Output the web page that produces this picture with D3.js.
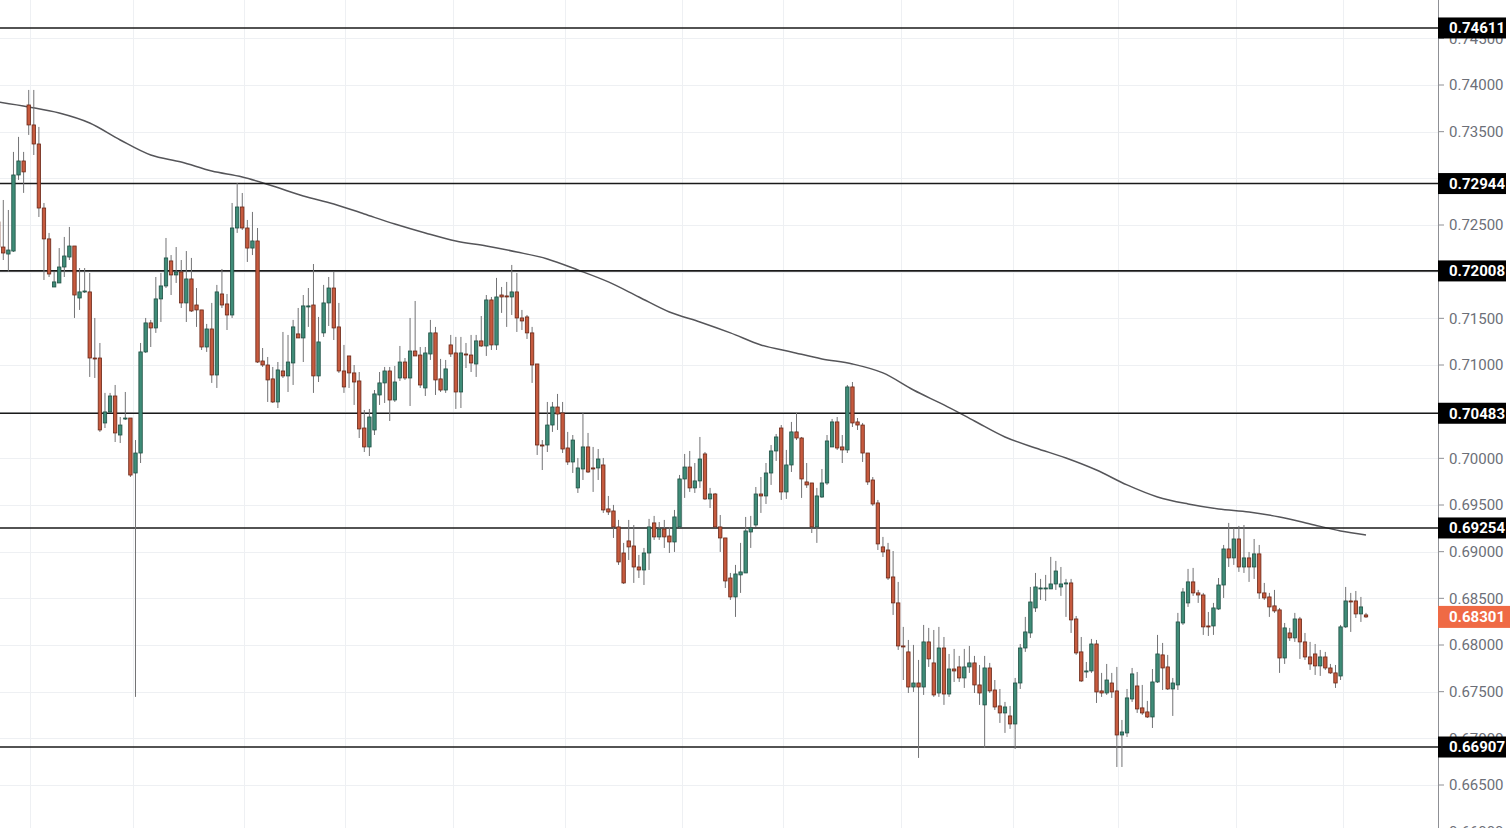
<!DOCTYPE html>
<html>
<head>
<meta charset="utf-8">
<script src="https://cdnjs.cloudflare.com/ajax/libs/d3/7.8.5/d3.min.js"></script>
<style>
  html, body { margin: 0; padding: 0; background: #ffffff; overflow: hidden; }
  svg { display: block; }
</style>
</head>
<body>
<svg id="chart" width="1510" height="828"></svg>
<script>
// ---------------- DATA ----------------
const openP = [
0.72533,0.72264,0.72189,0.72221,0.73036,0.73186,0.73786,0.73572,0.73368,0.72682,
0.72351,0.71836,0.71879,0.72050,0.72157,0.72275,0.71718,0.71783,0.71783,0.71075,
0.71075,0.70379,0.70497,0.70668,0.70250,0.70422,0.70432,0.69843,0.70057,0.71140,
0.71451,0.71397,0.71708,0.71847,0.72115,0.71965,0.71997,0.71665,0.71922,0.71643,
0.71590,0.71193,0.71386,0.70893,0.71761,0.71654,0.71536,0.72468,0.72693,0.72468,
0.72253,0.72329,0.71043,0.71000,0.70851,0.70604,0.70936,0.70883,0.71022,0.71333,
0.71290,0.71622,0.71643,0.70883,0.71344,0.71665,0.71825,0.71408,0.70936,0.71097,
0.70915,0.70829,0.70325,0.70122,0.70304,0.70679,0.70808,0.70936,0.70625,0.70861,
0.71032,0.70861,0.71150,0.71107,0.70754,0.71118,0.71344,0.70851,0.70732,0.71215,
0.71129,0.70711,0.71118,0.71107,0.71011,0.71258,0.71204,0.71697,0.71215,0.71750,
0.71740,0.71729,0.71783,0.71504,0.71515,0.71344,0.71011,0.70143,0.70143,0.70357,
0.70550,0.70486,0.70111,0.69961,0.69683,0.69886,0.70122,0.69897,0.69897,0.69929,
0.69458,0.69436,0.69265,0.68986,0.69115,0.69061,0.68836,0.68804,0.68986,0.69308,
0.69158,0.69243,0.69168,0.69104,0.69265,0.69779,0.69907,0.69683,0.69758,0.70047,
0.69565,0.69618,0.69265,0.69147,0.68718,0.68515,0.68751,0.68772,0.69211,0.69286,
0.69618,0.69597,0.69843,0.70079,0.70325,0.69640,0.69929,0.70283,0.70218,0.69747,
0.69736,0.69265,0.69586,0.69736,0.70122,0.70390,0.70122,0.70090,0.70765,0.70390,
0.70357,0.70057,0.69768,0.69522,0.69051,0.69018,0.68729,0.68451,0.67990,0.67926,
0.67550,0.67593,0.67550,0.68033,0.67808,0.67486,0.67968,0.67475,0.67743,0.67765,
0.67647,0.67765,0.67808,0.67572,0.67358,0.67754,0.67518,0.67347,0.67272,0.67240,
0.67154,0.67593,0.67968,0.68129,0.68397,0.68601,0.68601,0.68601,0.68654,0.68622,
0.68654,0.68665,0.68279,0.67926,0.67711,0.67722,0.68011,0.67508,0.67486,0.67593,
0.67508,0.67036,0.67058,0.67422,0.67561,0.67326,0.67283,0.67229,0.67604,0.67894,
0.67765,0.67529,0.67572,0.68236,0.68451,0.68676,0.68558,0.68536,0.68204,0.68204,
0.68386,0.68643,0.69029,0.68933,0.69136,0.68836,0.68933,0.68836,0.68976,0.68558,
0.68515,0.68419,0.68376,0.67861,0.68129,0.68076,0.68279,0.68033,0.67872,0.67904,
0.67776,0.67872,0.67754,0.67701,0.67668,0.68194,0.68472,0.68472,0.68333,0.68322
];
const highP = [
0.72768,0.72768,0.72661,0.73283,0.73444,0.73283,0.73947,0.73947,0.73551,0.72736,
0.72415,0.71997,0.72253,0.72372,0.72479,0.72275,0.72039,0.72039,0.71986,0.71504,
0.71236,0.70701,0.70701,0.70786,0.70443,0.70711,0.70432,0.70196,0.71236,0.71504,
0.71483,0.71943,0.71986,0.72361,0.72178,0.72264,0.72125,0.72221,0.72147,0.71825,
0.71590,0.71440,0.71665,0.71858,0.72029,0.71761,0.72736,0.72950,0.72843,0.72554,
0.72640,0.72468,0.71182,0.71086,0.70979,0.71032,0.71354,0.71322,0.71483,0.71611,
0.71750,0.71825,0.72082,0.71515,0.71858,0.71943,0.71997,0.71665,0.71215,0.71097,
0.71000,0.70925,0.70518,0.70529,0.70732,0.70925,0.70979,0.70979,0.70990,0.71204,
0.71075,0.71504,0.71686,0.71193,0.71193,0.71483,0.71408,0.71065,0.71054,0.71322,
0.71301,0.71301,0.71236,0.71322,0.71322,0.71525,0.71750,0.71729,0.71933,0.71836,
0.71890,0.72072,0.71986,0.71590,0.71536,0.71408,0.71011,0.70196,0.70604,0.70604,
0.70690,0.70604,0.70283,0.70250,0.70004,0.70486,0.70272,0.70122,0.70100,0.70004,
0.69597,0.69501,0.69340,0.69094,0.69340,0.69286,0.68965,0.69040,0.69351,0.69383,
0.69318,0.69340,0.69265,0.69447,0.69822,0.70047,0.70079,0.69950,0.70229,0.70068,
0.69683,0.69629,0.69393,0.69147,0.68772,0.68858,0.69094,0.69372,0.69383,0.69693,
0.69800,0.69950,0.70143,0.70261,0.70357,0.70090,0.70390,0.70486,0.70229,0.69950,
0.69736,0.69683,0.69886,0.70250,0.70422,0.70443,0.70250,0.70786,0.70818,0.70432,
0.70379,0.70057,0.69800,0.69554,0.69158,0.69094,0.69007,0.68676,0.68194,0.68054,
0.68001,0.67840,0.68215,0.68183,0.68161,0.68194,0.68086,0.67904,0.67958,0.67883,
0.67958,0.67990,0.67883,0.67786,0.67883,0.67808,0.67625,0.67529,0.67390,0.67347,
0.67647,0.68011,0.68301,0.68622,0.68772,0.68708,0.68751,0.68944,0.68901,0.68836,
0.68708,0.68708,0.68311,0.68086,0.67818,0.68065,0.68054,0.67701,0.67797,0.67701,
0.67765,0.67197,0.67529,0.67754,0.67711,0.67572,0.67401,0.67743,0.68108,0.68022,
0.67894,0.67647,0.68344,0.68611,0.68815,0.68826,0.68590,0.68558,0.68354,0.68451,
0.68718,0.69072,0.69308,0.69254,0.69276,0.69286,0.68997,0.69136,0.69072,0.68665,
0.68558,0.68590,0.68397,0.68236,0.68183,0.68344,0.68301,0.68129,0.68033,0.68011,
0.67947,0.67926,0.67797,0.67786,0.68215,0.68622,0.68558,0.68579,0.68515,0.68344
];
const lowP = [
0.72178,0.72125,0.71997,0.72211,0.72983,0.72844,0.73465,0.73250,0.72586,0.71911,
0.71943,0.71836,0.71879,0.71943,0.72125,0.71504,0.71590,0.71772,0.70872,0.70861,
0.70283,0.70325,0.70486,0.70175,0.70164,0.70411,0.69800,0.67444,0.69950,0.71129,
0.71193,0.71344,0.71461,0.71825,0.71750,0.71879,0.71611,0.71461,0.71568,0.71408,
0.71161,0.71140,0.70808,0.70754,0.71611,0.71375,0.71504,0.72415,0.72447,0.72104,
0.72178,0.71022,0.70979,0.70604,0.70593,0.70539,0.70861,0.70711,0.70786,0.71290,
0.71032,0.71408,0.70701,0.70818,0.71301,0.71418,0.71268,0.70915,0.70701,0.70754,
0.70572,0.70218,0.70068,0.70025,0.70250,0.70572,0.70593,0.70400,0.70604,0.70829,
0.70840,0.70561,0.71097,0.70754,0.70668,0.71054,0.70679,0.70711,0.70701,0.71086,
0.70529,0.70539,0.70968,0.70925,0.70872,0.71193,0.71097,0.71161,0.71161,0.71558,
0.71408,0.71536,0.71354,0.71375,0.71279,0.70808,0.70036,0.69875,0.70068,0.70283,
0.70304,0.70057,0.69929,0.69843,0.69629,0.69768,0.69843,0.69640,0.69768,0.69415,
0.69393,0.69147,0.68858,0.68654,0.68911,0.68665,0.68718,0.68643,0.68804,0.69126,
0.69126,0.69040,0.68986,0.68997,0.69254,0.69576,0.69640,0.69629,0.69683,0.69554,
0.69468,0.69254,0.68997,0.68611,0.68483,0.68301,0.68558,0.68772,0.69040,0.69265,
0.69415,0.69511,0.69715,0.69972,0.69554,0.69565,0.69854,0.70196,0.69576,0.69683,
0.69200,0.69094,0.69576,0.69715,0.70122,0.70090,0.69950,0.70057,0.70336,0.70304,
0.69961,0.69715,0.69490,0.69018,0.68943,0.68697,0.68322,0.67947,0.67625,0.67486,
0.67497,0.66790,0.67465,0.67765,0.67444,0.67444,0.67358,0.67444,0.67604,0.67604,
0.67540,0.67701,0.67486,0.67358,0.66897,0.67486,0.67304,0.67165,0.67058,0.67101,
0.66886,0.67529,0.67926,0.68076,0.68354,0.68483,0.68472,0.68601,0.68590,0.68526,
0.68301,0.68129,0.67894,0.67604,0.67647,0.67701,0.67379,0.67444,0.67465,0.67433,
0.66693,0.66693,0.67015,0.67390,0.67272,0.67251,0.67218,0.67111,0.67593,0.67518,
0.67518,0.67240,0.67518,0.68215,0.68408,0.68526,0.68451,0.68108,0.68097,0.68108,
0.68376,0.68504,0.68836,0.68858,0.68783,0.68772,0.68676,0.68708,0.68494,0.68483,
0.68301,0.68344,0.67701,0.67797,0.68044,0.68033,0.67851,0.67840,0.67733,0.67679,
0.67669,0.67733,0.67690,0.67540,0.67625,0.68183,0.68140,0.68290,0.68247,0.68290
];
const closeP = [
0.72264,0.72200,0.72232,0.73036,0.73186,0.73069,0.73572,0.73368,0.72682,0.72351,
0.71975,0.71890,0.72050,0.72168,0.72275,0.71750,0.71783,0.71793,0.71075,0.71065,
0.70304,0.70497,0.70668,0.70272,0.70357,0.70432,0.69821,0.70057,0.71140,0.71451,
0.71397,0.71708,0.71847,0.72147,0.71965,0.71997,0.71665,0.71922,0.71579,0.71590,
0.71193,0.71386,0.70893,0.71783,0.71643,0.71536,0.72468,0.72693,0.72468,0.72253,
0.72329,0.71032,0.71000,0.70840,0.70604,0.70947,0.70883,0.71032,0.71408,0.71290,
0.71633,0.71633,0.70883,0.71247,0.71665,0.71825,0.71397,0.70936,0.70765,0.70915,
0.70818,0.70315,0.70122,0.70443,0.70690,0.70808,0.70936,0.70625,0.70818,0.71032,
0.70861,0.71150,0.71097,0.70786,0.71129,0.71344,0.70840,0.70732,0.70958,0.71118,
0.70711,0.71129,0.71107,0.71022,0.71258,0.71204,0.71697,0.71215,0.71729,0.71729,
0.71729,0.71783,0.71504,0.71472,0.71344,0.71000,0.70143,0.70132,0.70357,0.70550,
0.70475,0.70100,0.69961,0.70196,0.69897,0.70122,0.69854,0.69886,0.69993,0.69447,
0.69425,0.69265,0.68890,0.68665,0.69051,0.68836,0.68804,0.68986,0.69265,0.69158,
0.69243,0.69158,0.69104,0.69372,0.69779,0.69907,0.69683,0.69758,0.69993,0.69565,
0.69618,0.69265,0.69147,0.68686,0.68515,0.68761,0.68783,0.69222,0.69254,0.69618,
0.69597,0.69843,0.70079,0.70229,0.69640,0.69929,0.70283,0.70218,0.69779,0.69715,
0.69265,0.69597,0.69736,0.70186,0.70390,0.70111,0.70090,0.70765,0.70379,0.70357,
0.70057,0.69747,0.69511,0.69083,0.68997,0.68718,0.68451,0.67990,0.67979,0.67550,
0.67593,0.67550,0.68033,0.67851,0.67465,0.67968,0.67475,0.67743,0.67722,0.67647,
0.67765,0.67808,0.67572,0.67486,0.67754,0.67508,0.67336,0.67272,0.67336,0.67154,
0.67593,0.67968,0.68140,0.68461,0.68622,0.68611,0.68611,0.68654,0.68793,0.68654,
0.68665,0.68269,0.67915,0.67615,0.67722,0.68011,0.67497,0.67486,0.67625,0.67497,
0.67036,0.67068,0.67433,0.67690,0.67315,0.67272,0.67229,0.67604,0.67904,0.67754,
0.67529,0.67593,0.68247,0.68568,0.68676,0.68558,0.68536,0.68194,0.68194,0.68397,
0.68643,0.69029,0.68933,0.69136,0.68836,0.68933,0.68836,0.68976,0.68558,0.68504,
0.68408,0.68365,0.67861,0.68183,0.68076,0.68279,0.68033,0.67872,0.67797,0.67776,
0.67872,0.67754,0.67701,0.67593,0.68194,0.68472,0.68461,0.68333,0.68408,0.68301
];

// moving average (bar index, value)
const maIdx = [0,6,12,18,24,30,36,42,48,54,60,66,72,78,84,90,96,102,108,114,120,126,132,138,144,150,156,162,168,174,180,186,192,198,204,210,216,222,228,234,240,246,252,258,264,269];
const maVal = [0.73818,0.73765,0.73700,0.73593,0.73411,0.73250,0.73175,0.73079,0.73015,0.72918,0.72811,0.72725,0.72618,0.72511,0.72415,0.72329,0.72275,0.72211,0.72136,0.72018,0.71890,0.71729,0.71568,0.71461,0.71344,0.71215,0.71140,0.71065,0.71011,0.70915,0.70732,0.70572,0.70400,0.70229,0.70111,0.70004,0.69875,0.69715,0.69586,0.69511,0.69458,0.69425,0.69372,0.69297,0.69222,0.69179];

// horizontal levels
const levels = [0.74611, 0.72944, 0.72008, 0.70483, 0.69254, 0.66907];
const lastPrice = 0.68301;

// price axis ticks
const yTicks = [0.660,0.665,0.670,0.675,0.680,0.685,0.690,0.695,0.700,0.705,0.710,0.715,0.720,0.725,0.730,0.735,0.740,0.745];
// vertical grid positions (in bar-index units, month boundaries)
const gridIdx = [6.25, 26.5, 48.3, 68.2, 89.4, 111.5, 134.5, 154.3, 177.5, 199.6, 220.2, 243.4, 264.5];

// ---------------- DRAW ----------------
const W = 1510, H = 828, plotRight = 1438;
const svg = d3.select("#chart");

const x = d3.scaleLinear().domain([0, openP.length - 1]).range([-1.8, 1366]);
const y = d3.scaleLinear().domain([0.665, 0.740]).range([785, 85]);

const bars = openP.map((o, i) => ({ i, o, h: highP[i], l: lowP[i], c: closeP[i] }));

svg.append("defs").append("clipPath").attr("id", "plotclip")
  .append("rect").attr("x", 0).attr("y", 0).attr("width", plotRight).attr("height", H);

const plot = svg.append("g").attr("clip-path", "url(#plotclip)");

// grid
plot.append("g").selectAll("line.h").data(yTicks).join("line")
  .attr("x1", 0).attr("x2", plotRight)
  .attr("y1", d => Math.round(y(d)) + 0.5).attr("y2", d => Math.round(y(d)) + 0.5)
  .attr("stroke", "#eef0f3").attr("stroke-width", 1);
plot.append("g").selectAll("line.v").data(gridIdx).join("line")
  .attr("x1", d => Math.round(x(d)) + 0.5).attr("x2", d => Math.round(x(d)) + 0.5)
  .attr("y1", 0).attr("y2", H)
  .attr("stroke", "#eef0f3").attr("stroke-width", 1);

// moving average
const maData = maIdx.map((k, j) => [k, maVal[j]]);
plot.append("path").datum(maData)
  .attr("fill", "none").attr("stroke", "#555559").attr("stroke-width", 1.5)
  .attr("d", d3.line().x(d => x(d[0])).y(d => y(d[1])).curve(d3.curveMonotoneX));

// level lines
plot.append("g").selectAll("line").data(levels).join("line")
  .attr("x1", 0).attr("x2", plotRight)
  .attr("y1", d => y(d)).attr("y2", d => y(d))
  .attr("stroke", "#1a1a1a").attr("stroke-width", 1.6);

// candles
const upFill = "#3f8c78", upStroke = "#1f5044", dnFill = "#c65a3e", dnStroke = "#6a2717", wick = "#737375";
const bw = 3.4;
const cg = plot.append("g");
cg.selectAll("line").data(bars).join("line")
  .attr("x1", d => x(d.i)).attr("x2", d => x(d.i))
  .attr("y1", d => y(d.h)).attr("y2", d => y(d.l))
  .attr("stroke", wick).attr("stroke-width", 1);
cg.selectAll("rect").data(bars).join("rect")
  .attr("x", d => x(d.i) - bw / 2)
  .attr("width", bw)
  .attr("y", d => Math.min(y(d.o), y(d.c)))
  .attr("height", d => Math.max(1, Math.abs(y(d.o) - y(d.c))))
  .attr("fill", d => d.c >= d.o ? upFill : dnFill)
  .attr("stroke", d => d.c >= d.o ? upStroke : dnStroke)
  .attr("stroke-width", 0.8);

// right price axis
const ax = svg.append("g");
ax.append("line").attr("x1", plotRight + 0.5).attr("x2", plotRight + 0.5)
  .attr("y1", 0).attr("y2", H).attr("stroke", "#8f9095").attr("stroke-width", 1);
const tk = ax.append("g").selectAll("g").data(yTicks).join("g")
  .attr("transform", d => `translate(0,${y(d)})`);
tk.append("line").attr("x1", plotRight).attr("x2", plotRight + 6)
  .attr("stroke", "#8f9095").attr("stroke-width", 1);
// tick labels fully covered by a level label are not drawn (hidden in the reference too)
const covered = d => levels.some(l => Math.abs(y(l) - y(d)) < 8);
tk.filter(d => !covered(d)).append("text").attr("x", 1449).attr("dy", "0.36em")
  .attr("font-family", "Roboto, 'Open Sans', sans-serif").attr("font-size", 15)
  .attr("fill", "#6c6f78").text(d => d3.format(".5f")(d));

// level labels
const lb = ax.append("g").selectAll("g").data(levels).join("g")
  .attr("transform", d => `translate(0,${y(d)})`);
lb.append("rect").attr("x", plotRight).attr("y", -10.5).attr("width", 68).attr("height", 21)
  .attr("fill", "#000000");
lb.append("text").attr("x", 1449).attr("dy", "0.36em")
  .attr("font-family", "Roboto, 'Open Sans', sans-serif").attr("font-size", 15).attr("font-weight", "bold")
  .attr("fill", "#ffffff").text(d => d3.format(".5f")(d));

// last price label
const lp = ax.append("g").attr("transform", `translate(0,${y(lastPrice)})`);
lp.append("rect").attr("x", plotRight).attr("y", -11).attr("width", W - plotRight).attr("height", 22)
  .attr("fill", "#ef6a45");
lp.append("text").attr("x", 1449).attr("dy", "0.36em")
  .attr("font-family", "Roboto, 'Open Sans', sans-serif").attr("font-size", 15).attr("font-weight", "bold")
  .attr("fill", "#ffffff").text(d3.format(".5f")(lastPrice));
</script>
</body>
</html>
